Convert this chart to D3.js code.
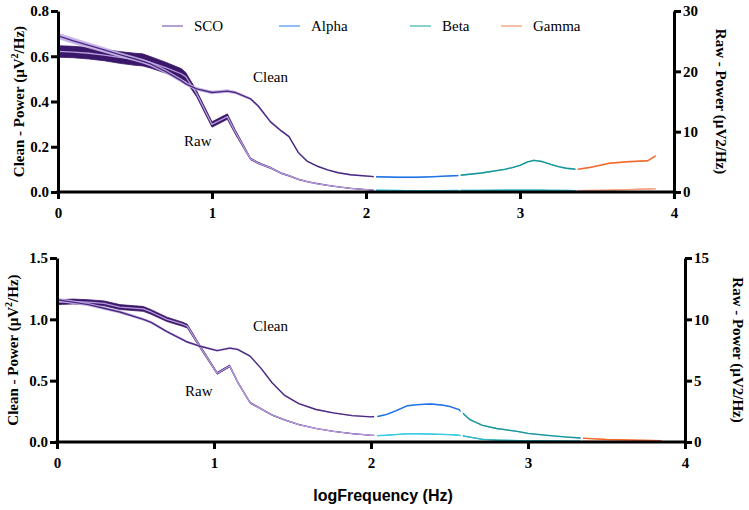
<!DOCTYPE html>
<html><head><meta charset="utf-8">
<script src="https://cdn.jsdelivr.net/npm/d3@7/dist/d3.min.js"></script>
<style>body{margin:0;background:#fff}svg{display:block}</style>
</head><body><svg id="c" width="749" height="510"></svg>
<script>
// ---------- DATA ----------
const xTicks = [0, 1, 2, 3, 4];
const legendNames = ["SCO", "Alpha", "Beta", "Gamma"];

// top panel
const topFreq  = [0,0.1,0.2,0.3,0.4,0.5,0.55,0.6,0.7,0.8,0.83,0.9,1.0,1.1,1.15,1.25,1.3,1.38,1.45,1.5,1.56,1.62,1.68,1.75,1.82,1.9,2.05,2.2,2.33,2.45,2.6,2.75,2.9,2.95,3.0,3.05,3.09,3.14,3.2,3.25,3.3,3.37,3.45,3.58,3.7,3.83,3.88];
const topClean = [0.69,0.668,0.648,0.628,0.607,0.588,0.578,0.566,0.532,0.492,0.478,0.456,0.44,0.446,0.44,0.412,0.38,0.31,0.27,0.245,0.175,0.135,0.115,0.098,0.085,0.076,0.068,0.065,0.065,0.068,0.073,0.084,0.1,0.108,0.118,0.133,0.14,0.135,0.122,0.112,0.105,0.1,0.108,0.127,0.134,0.138,0.16];
const topCleanSem = [0.012,0.012,0.011,0.01,0.009,0.008,0.008,0.008,0.007,0.007,0.006,0.006,0.006,0.006,0.005,0.004,0.004,0.003,0.003,0.002,0.0015,0.0015,0.0015,0.0015,0.0015,0.0015,0.0015,0.0015,0.0015,0.0015,0.0015,0.0015,0.0015,0.0015,0.0015,0.0015,0.0015,0.0015,0.0015,0.0015,0.0015,0.0015,0.0015,0.0015,0.0015,0.0015,0.0015];
const topRaw   = [23.3,23.2,23.0,22.7,22.3,22.0,21.9,21.5,20.6,19.6,19.1,16.3,11.2,12.5,10.0,5.5,4.8,4.0,3.1,2.7,2.1,1.7,1.4,1.1,0.85,0.6,0.3,0.25,0.2,0.22,0.25,0.27,0.3,0.3,0.3,0.3,0.3,0.3,0.28,0.27,0.25,0.22,0.25,0.3,0.4,0.5,0.55];
const topRawSem = [0.95,0.95,0.95,0.95,0.97,1.0,1.0,0.95,0.9,0.85,0.7,0.5,0.45,0.45,0.35,0.15,0.12,0.1,0.08,0.07,0.06,0.05,0.05,0.04,0.03,0.03,0.02,0.02,0.02,0.02,0.02,0.02,0.02,0.02,0.02,0.02,0.02,0.02,0.02,0.02,0.02,0.02,0.02,0.02,0.02,0.02,0.02];
const topBandStart = [0, 2.065, 2.615, 3.375];
const topBandEnd   = [2.05, 2.6, 3.36, 3.95];
const topLeftTicks = [0, 0.2, 0.4, 0.6, 0.8];
const topRightTicks = [0, 10, 20, 30];

// bottom panel
const botFreq  = [0,0.1,0.2,0.3,0.4,0.55,0.6,0.7,0.8,0.83,0.9,1.02,1.1,1.15,1.23,1.3,1.37,1.45,1.54,1.65,1.76,1.88,2.0,2.05,2.1,2.15,2.23,2.3,2.38,2.45,2.5,2.56,2.63,2.71,2.8,2.93,3.0,3.14,3.25,3.34,3.5,3.7,3.85];
const botClean = [1.16,1.14,1.12,1.09,1.06,1.0,0.975,0.9,0.835,0.815,0.785,0.745,0.765,0.755,0.7,0.6,0.483,0.38,0.313,0.265,0.237,0.215,0.205,0.21,0.225,0.25,0.295,0.305,0.31,0.302,0.29,0.264,0.182,0.136,0.11,0.087,0.07,0.052,0.04,0.032,0.02,0.014,0.01];
const botCleanSem = [0.012,0.011,0.01,0.01,0.009,0.008,0.008,0.007,0.007,0.006,0.006,0.005,0.005,0.005,0.004,0.004,0.003,0.003,0.002,0.002,0.002,0.002,0.002,0.002,0.002,0.002,0.002,0.002,0.002,0.002,0.002,0.002,0.002,0.002,0.002,0.002,0.002,0.002,0.002,0.002,0.002,0.002,0.002];
const botRaw   = [11.4,11.45,11.4,11.3,11.0,10.85,10.6,10.0,9.6,9.45,8.0,5.6,6.2,4.9,3.2,2.7,2.2,1.8,1.42,1.1,0.87,0.68,0.55,0.52,0.55,0.6,0.66,0.67,0.65,0.62,0.6,0.55,0.4,0.22,0.16,0.12,0.1,0.08,0.07,0.06,0.05,0.04,0.03];
const botRawSem = [0.2,0.2,0.2,0.2,0.2,0.2,0.19,0.18,0.17,0.15,0.12,0.08,0.08,0.06,0.05,0.04,0.03,0.03,0.02,0.01,0.01,0.01,0.01,0.01,0.01,0.01,0.01,0.01,0.01,0.01,0.01,0.01,0.01,0.01,0.01,0.01,0.01,0.01,0.01,0.01,0.01,0.01,0.01];
const botBandStart = [0, 2.04, 2.585, 3.35];
const botBandEnd   = [2.02, 2.57, 3.335, 3.95];
const botLeftTicks = [0, 0.5, 1.0, 1.5];
const botRightTicks = [0, 5, 10, 15];

// ---------- STYLE ----------
const cleanLine = ["#4a2a80", "#1f72e6", "#17979c", "#f06a2c"];
const cleanBand = ["#c6b2e6", "#9cc3f5", "#8fd0d2", "#f8b898"];
const rawLine   = ["#b79de0", "#3ccbe6", "#30b8c8", "#f9a585"];
const rawBand   = ["#3b1769", "#3ccbe6", "#30b8c8", "#f9a585"];
const legendCol = ["#9d80c9", "#6da8f0", "#62c0c0", "#f7a784"];
const serif = "'Liberation Serif','Times New Roman',serif";
const sans = "'Liberation Sans',Arial,sans-serif";

const svg = d3.select("#c");

function panel(cfg) {
  const x = d3.scaleLinear().domain([0, 4]).range([cfg.x0, cfg.x1]);
  const yL = d3.scaleLinear().domain([0, cfg.leftMax]).range([cfg.y0, cfg.y1]);
  const yR = d3.scaleLinear().domain([0, cfg.rightMax]).range([cfg.y0, cfg.y1]);
  const g = svg.append("g");
  const id = cfg.id;

  cfg.bandStart.forEach((s, i) => {
    g.append("clipPath").attr("id", id + "b" + i).append("rect")
      .attr("x", x(s)).attr("y", 0).attr("width", x(cfg.bandEnd[i]) - x(s)).attr("height", 510);
  });

  const idx = d3.range(cfg.freq.length);
  function drawSeries(vals, sem, ys, lineCols, bandCols, lw) {
    const area = d3.area().x(i => x(cfg.freq[i])).y0(i => ys(vals[i] - sem[i])).y1(i => ys(vals[i] + sem[i]));
    const line = d3.line().x(i => x(cfg.freq[i])).y(i => ys(vals[i]));
    cfg.bandStart.forEach((s, b) => {
      const gg = g.append("g").attr("clip-path", `url(#${id}b${b})`);
      gg.append("path").attr("d", area(idx)).attr("fill", bandCols[b]).attr("stroke", bandCols[b]).attr("stroke-width", 0.8);
      gg.append("path").attr("d", line(idx)).attr("fill", "none").attr("stroke", lineCols[b])
        .attr("stroke-width", lw).attr("stroke-linejoin", "round");
    });
  }
  drawSeries(cfg.raw, cfg.rawSem, yR, rawLine, rawBand, 1.3);
  drawSeries(cfg.clean, cfg.cleanSem, yL, cleanLine, cleanBand, 1.4);

  // axes
  const xa = g.append("g").attr("transform", `translate(0,${cfg.y0})`)
    .call(d3.axisBottom(x).tickValues(xTicks).tickFormat(d3.format("d")).tickSize(7).tickSizeOuter(0));
  const la = g.append("g").attr("transform", `translate(${cfg.x0},0)`)
    .call(d3.axisLeft(yL).tickValues(cfg.leftTicks).tickFormat(d3.format(".1f")).tickSize(7).tickSizeOuter(0));
  const ra = g.append("g").attr("transform", `translate(${cfg.x1},0)`)
    .call(d3.axisRight(yR).tickValues(cfg.rightTicks).tickFormat(d3.format("d")).tickSize(7).tickSizeOuter(0));
  [xa, la, ra].forEach(a => {
    a.select(".domain").attr("stroke", "#000").attr("stroke-width", 3);
    a.selectAll(".tick line").attr("stroke", "#000").attr("stroke-width", 3);
    a.selectAll(".tick text").attr("font-family", serif).attr("font-weight", "bold").attr("font-size", 15).attr("fill", "#000");
  });
  xa.selectAll(".tick text").attr("dy", "1.05em");
  la.selectAll(".tick text").attr("x", -9);
  ra.selectAll(".tick text").attr("x", 9);
  xa.select(".domain").attr("d", `M${cfg.x0 - 1.5},0H${cfg.x1 + 1.5}`);

  // axis titles
  const cy = (cfg.y0 + cfg.y1) / 2;
  const lt = g.append("text").attr("transform", `translate(${cfg.ltX},${cy}) rotate(-90)`)
    .attr("text-anchor", "middle").attr("font-family", serif).attr("font-weight", "bold").attr("font-size", 15);
  lt.append("tspan").text("Clean - Power (µV");
  lt.append("tspan").attr("font-size", 10).attr("dy", -6).text("2");
  lt.append("tspan").attr("dy", 6).text("/Hz)");
  g.append("text").attr("transform", `translate(${cfg.x1 + cfg.rtOff},${cy}) rotate(90)`)
    .attr("text-anchor", "middle").attr("font-family", serif).attr("font-weight", "bold").attr("font-size", 15)
    .text("Raw - Power (µV2/Hz)");

  g.append("text").attr("x", cfg.cleanLbl[0]).attr("y", cfg.cleanLbl[1]).attr("font-family", serif).attr("font-size", 15).text("Clean");
  g.append("text").attr("x", cfg.rawLbl[0]).attr("y", cfg.rawLbl[1]).attr("font-family", serif).attr("font-size", 15).text("Raw");
}

panel({id: "t", x0: 58, x1: 674, y0: 192, y1: 11, leftMax: 0.8, rightMax: 30,
  freq: topFreq, clean: topClean, cleanSem: topCleanSem, raw: topRaw, rawSem: topRawSem,
  bandStart: topBandStart, bandEnd: topBandEnd, leftTicks: topLeftTicks, rightTicks: topRightTicks,
  cleanLbl: [253, 82], rawLbl: [184, 146], ltX: 24, rtOff: 42});
panel({id: "b", x0: 57, x1: 685, y0: 442, y1: 258, leftMax: 1.5, rightMax: 15,
  freq: botFreq, clean: botClean, cleanSem: botCleanSem, raw: botRaw, rawSem: botRawSem,
  bandStart: botBandStart, bandEnd: botBandEnd, leftTicks: botLeftTicks, rightTicks: botRightTicks,
  cleanLbl: [253, 331], rawLbl: [185, 396], ltX: 18, rtOff: 48});

// legend
const legX = [162, 279, 410, 501];
const lg = svg.append("g");
legendNames.forEach((n, i) => {
  lg.append("line").attr("x1", legX[i]).attr("x2", legX[i] + 21).attr("y1", 26).attr("y2", 26)
    .attr("stroke", legendCol[i]).attr("stroke-width", 1.5);
  lg.append("text").attr("x", legX[i] + 32).attr("y", 31).attr("font-family", serif).attr("font-size", 15).text(n);
});

svg.append("text").attr("x", 383).attr("y", 501).attr("text-anchor", "middle")
  .attr("font-family", sans).attr("font-weight", "bold").attr("font-size", 16).text("logFrequency (Hz)");
</script></body></html>
